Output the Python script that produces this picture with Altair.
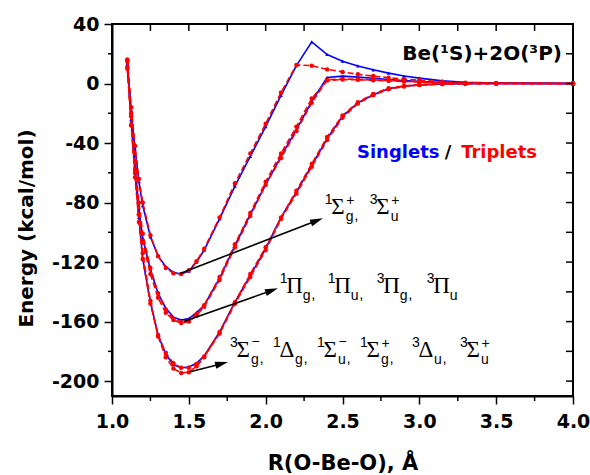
import math
import altair as alt
import pandas as pd

# ---------------- data ----------------
R = [1.10, 1.125, 1.15, 1.175, 1.20, 1.25, 1.30, 1.35, 1.40, 1.45, 1.50, 1.55, 1.60,
     1.70, 1.80, 1.90, 2.00, 2.10, 2.20, 2.30, 2.40, 2.50, 2.60, 2.70, 2.80, 2.90,
     3.00, 3.15, 3.30, 3.50, 4.00]

# group A : 1Sg+, 3Su+
A_S = [12, -18, -44, -66, -82, -103, -116, -123, -127, -128, -126, -120, -112,
       -91, -69, -49, -29, -8, 12, 28, 19.5, 15, 11.8, 9.2, 7, 5, 3.6, 1.8, 0.8, 0.3, 0]
A_T = [15, -16, -42, -64, -80, -102, -116, -124, -127.5, -128, -125.5, -119.5, -111,
       -90, -67, -47, -27, -6, 12.5, 12, 9.5, 7.8, 6.2, 5, 3.9, 3, 2.2, 1.2, 0.5, 0.2, 0]
# group B : Pi states
B_S = [14, -24, -56, -84, -104, -125, -141, -151, -157, -159, -158, -154, -149,
       -131, -109, -88, -68, -49, -31, -12, 4, 5, 4.3, 3.5, 2.7, 2, 1.4, 0.7, 0.3, 0.1, 0]
B_T1 = [16, -20, -52, -80, -101, -124, -141, -152, -158, -160.5, -159.5, -155, -149,
        -130, -108, -87, -66, -47, -29, -10, 2, 2.7, 2.5, 2.2, 1.8, 1.4, 1, 0.5, 0.2, 0.1, 0]
B_T2 = [10, -28, -60, -88, -107, -128, -144, -154, -159, -161, -160, -156, -150,
        -132, -110, -89, -68, -50, -32, -13, 2.5, 3, 2.8, 2.4, 2, 1.5, 1.1, 0.5, 0.2, 0.1, 0]
# group C : lowest six states
C_S = [13, -25, -60, -90, -118, -147, -169, -182, -189, -191, -190.5, -188, -183,
       -167, -147, -129, -111, -90, -73, -55, -37, -22, -13, -7.5, -3.5, -1.8, -0.9, -0.3, -0.1, 0, 0]
C_T1 = [16, -22, -58, -88, -114, -146, -170, -184, -191.5, -194.5, -194, -190, -184,
        -167, -147, -128, -110, -90, -72, -54, -36, -21.5, -12.5, -7, -3.2, -1.6, -0.8, -0.3, -0.1, 0, 0]
C_T2 = [11, -28, -63, -93, -118, -148, -169, -181, -188, -191, -191, -188.5, -183.5,
        -168, -148, -130, -112, -91, -74, -56, -38, -23, -13.5, -7.8, -3.8, -2, -1, -0.4, -0.1, 0, 0]

SERIES = {"A_S": ("S", A_S), "B_S": ("S", B_S), "C_S": ("S", C_S),
          "A_T": ("T", A_T), "B_T1": ("T", B_T1), "B_T2": ("T", B_T2),
          "C_T1": ("T", C_T1), "C_T2": ("T", C_T2)}

Y_MAJOR = [-200, -160, -120, -80, -40, 0, 40]
Y_MINOR = [-180, -140, -100, -60, -20, 20]
Y_RIGHT = [-200, -180, -160, -140, -120, -100, -80, -60, -40, -20, 0, 20]
X_MAJOR = [1.0, 1.5, 2.0, 2.5, 3.0, 3.5, 4.0]
X_MINOR = [1.25, 1.75, 2.25, 2.75, 3.25, 3.75]
X_TOP = [1.25, 1.5, 1.75, 2.0, 2.25, 2.5, 2.75, 3.0, 3.25, 3.5, 3.75]

# annotation arrows: (start x, start y, tip x, tip y) in data units
ARROWS = [(1.443, -127.6, 2.373, -90.6),
          (1.466, -160.0, 2.080, -137.6),
          (1.509, -193.7, 1.755, -187.2)]

# state labels: anchor (data units), terms (sup, greek, sub, sup2), term offsets (px)
LABELS = [
    (2.385, -87.5, [("1", "Σ", "g", "+"), ("3", "Σ", "u", "+")], [0, 45]),
    (2.092, -140.5, [("1", "Π", "g", ""), ("1", "Π", "u", ""), ("3", "Π", "g", ""),
                     ("3", "Π", "u", "")], [0, 48, 97, 147]),
    (1.768, -184.0, [("3", "Σ", "g", "−"), ("1", "Δ", "g", ""), ("1", "Σ", "u", "−"),
                     ("1", "Σ", "g", "+"), ("3", "Δ", "u", ""), ("3", "Σ", "u", "+")],
     [0, 43, 87, 130, 182, 230]),
]

# ---------------- layout ----------------
W, H = 461, 372
X0, X1, Y0, Y1 = 1.0, 4.0, -210.0, 40.0
PXX = W / (X1 - X0)
PXY = H / (Y1 - Y0)
SANS = "DejaVu Sans"
BLUE, RED = "#0000ff", "#ff0000"

xsc = alt.Scale(domain=[X0, X1], nice=False, zero=False)
ysc = alt.Scale(domain=[Y0, Y1], nice=False, zero=False)
xax = alt.Axis(values=X_MAJOR, format=".1f", title="R(O-Be-O), Å", grid=False,
               tickSize=8, tickWidth=1.5, tickColor="black", domainColor="black",
               domainWidth=2, labelFont=SANS, labelFontWeight="bold", labelFontSize=19,
               labelColor="black", labelPadding=8, labelFlush=False,
               titleFont=SANS, titleFontWeight="bold", titleFontSize=21,
               titleColor="black", titleBaseline="alphabetic", titleY=73)
yax = alt.Axis(values=Y_MAJOR, labelExpr="toString(datum.value)", title="Energy (kcal/mol)",
               grid=False, tickSize=8, tickWidth=1.5, tickColor="black",
               domainColor="black", domainWidth=2, labelFont=SANS,
               labelFontWeight="bold", labelFontSize=19, labelColor="black",
               labelPadding=5, labelFlush=False, titleFont=SANS, titleFontWeight="bold",
               titleFontSize=20, titleColor="black", titleX=-76, titleY=204,
               titleBaseline="bottom", titleAngle=270)


def ex(f):
    return alt.X(f, type="quantitative", scale=xsc, axis=xax)


def ey(f):
    return alt.Y(f, type="quantitative", scale=ysc, axis=yax)


rows = []
for name, (spin, vals) in SERIES.items():
    for r, e in zip(R, vals):
        rows.append({"R": r, "E": e, "series": name, "spin": spin})
df = pd.DataFrame(rows)
dS = df[df.spin == "S"]
dT = df[df.spin == "T"]

blue_line = alt.Chart(dS).mark_line(color=BLUE, strokeWidth=1.6).encode(
    x=ex("R"), y=ey("E"), detail="series:N")
blue_pts = alt.Chart(dS).mark_point(shape="triangle-up", filled=True, size=14,
                                    color=BLUE, opacity=1).encode(x=ex("R"), y=ey("E"))
red_line = alt.Chart(dT).mark_line(color=RED, strokeWidth=1.6, strokeDash=[6, 3]).encode(
    x=ex("R"), y=ey("E"), detail="series:N")
red_pts = alt.Chart(dT).mark_point(shape="circle", filled=True, size=20,
                                   color=RED, opacity=1).encode(x=ex("R"), y=ey("E"))

# ----- extra ticks (minor / mirror) -----
def tick_layer(vals, axis, **pos):
    d = pd.DataFrame({"v": vals})
    enc = {"x": ex("v")} if axis == "x" else {"y": ey("v")}
    enc.update(pos)
    return alt.Chart(d).mark_rule(color="black", strokeWidth=1.5).encode(**enc)


ticks = [
    tick_layer(X_TOP, "x", y=alt.value(0), y2=alt.value(7)),
    tick_layer(X_MINOR, "x", y=alt.value(H), y2=alt.value(H + 5)),
    tick_layer(Y_RIGHT, "y", x=alt.value(W - 7), x2=alt.value(W)),
    tick_layer(Y_MINOR, "y", x=alt.value(-4), x2=alt.value(0)),
]

# ----- arrows -----
arr_rows, head_rows = [], []
HEAD = 13.0
for (xa, ya, xb, yb) in ARROWS:
    dxp = (xb - xa) * PXX
    dyp = -(yb - ya) * PXY
    L = math.hypot(dxp, dyp)
    ux, uy = dxp / L, dyp / L
    ang = math.degrees(math.atan2(ux, -uy)) % 360
    bx = xb - ux * HEAD * 0.8 / PXX
    by = yb + uy * HEAD * 0.8 / PXY
    cx = xb - ux * HEAD / 2 / PXX
    cy = yb + uy * HEAD / 2 / PXY
    arr_rows.append({"x0": xa, "y0": ya, "x1": bx, "y1": by})
    head_rows.append({"x": cx, "y": cy, "ang": ang})

arrow_lines = alt.Chart(pd.DataFrame(arr_rows)).mark_rule(
    color="black", strokeWidth=1.6).encode(x=ex("x0"), y=ey("y0"), x2="x1", y2="y1")
arrow_heads = alt.Chart(pd.DataFrame(head_rows)).mark_point(
    shape="M0,-1L0.55,1L-0.55,1Z", filled=True, size=HEAD * HEAD, color="black",
    opacity=1, strokeWidth=0).encode(x=ex("x"), y=ey("y"),
                                     angle=alt.Angle("ang:Q", scale=None))

# ----- state labels -----
GADV = {"Σ": 14.0, "Π": 16.0, "Δ": 15.0}
pieces = {"sup": [], "greek": [], "sub": [], "sup2p": [], "sup2m": [], "comma": []}
for (ax_, ay_, terms, offs) in LABELS:
    for i, ((s, g, b, s2), o) in enumerate(zip(terms, offs)):
        px = o
        pieces["sup"].append({"x": ax_ + px / PXX, "y": ay_, "t": s})
        gx = px + 6.5
        pieces["greek"].append({"x": ax_ + gx / PXX, "y": ay_, "t": g})
        sx = gx + GADV[g] + 0.5
        pieces["sub"].append({"x": ax_ + sx / PXX, "y": ay_, "t": b})
        if s2 == "+":
            pieces["sup2p"].append({"x": ax_ + (sx + 0.5) / PXX, "y": ay_, "t": s2})
        elif s2:
            pieces["sup2m"].append({"x": ax_ + (sx + 0.5) / PXX, "y": ay_, "t": s2})
        if i < len(terms) - 1:
            pieces["comma"].append({"x": ax_ + (sx + 8.5) / PXX, "y": ay_, "t": ","})

PIECE_STYLE = {
    "sup": dict(font="Liberation Sans", fontSize=14, dy=-10),
    "greek": dict(font="Liberation Serif", fontSize=23, dy=0),
    "sub": dict(font="Liberation Sans", fontSize=14, dy=7),
    "sup2p": dict(font="Liberation Sans", fontSize=14, dy=-9),
    "sup2m": dict(font="Liberation Sans", fontSize=14, dy=-11),
    "comma": dict(font="Liberation Sans", fontSize=15, dy=6),
}
label_layers = []
for k, rows_ in pieces.items():
    if not rows_:
        continue
    st = PIECE_STYLE[k]
    label_layers.append(
        alt.Chart(pd.DataFrame(rows_)).mark_text(
            align="left", baseline="alphabetic", color="black", font=st["font"],
            fontSize=st["fontSize"], dy=st["dy"]).encode(x=ex("x"), y=ey("y"), text="t:N"))

# ----- other texts -----
TEXTS = [
    # x, y, text, colour, align, size
    (3.928, 15.8, "Be(¹S)+2O(³P)", "black", "right", 20),
    (2.594, -50.0, "Singlets", BLUE, "left", 18),
    (3.165, -50.0, "/", "black", "left", 18),
    (3.272, -50.0, "Triplets", RED, "left", 18),
]
text_layers = []
for (tx, ty, tt, tc, ta, tsz) in TEXTS:
    text_layers.append(
        alt.Chart(pd.DataFrame({"x": [tx], "y": [ty], "t": [tt]})).mark_text(
            align=ta, baseline="alphabetic", color=tc, font=SANS, fontWeight="bold",
            fontSize=tsz).encode(x=ex("x"), y=ey("y"), text="t:N"))

chart = alt.layer(
    blue_line, blue_pts, red_line, red_pts, *ticks, arrow_lines, arrow_heads,
    *label_layers, *text_layers
).properties(
    width=W, height=H,
    padding={"left": 112, "top": 24, "right": 17, "bottom": 79},
    autosize=alt.AutoSizeParams(type="none"),
    background="white",
).configure_view(stroke="black", strokeWidth=2)

chart.save("out.html", embed_options={"renderer": "svg", "actions": False})
